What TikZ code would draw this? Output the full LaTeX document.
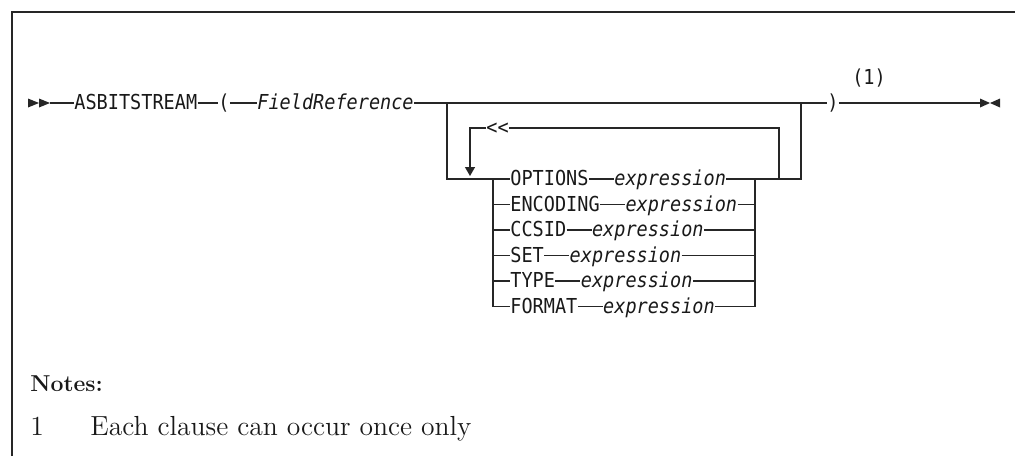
\documentclass[tikz,border=0pt]{standalone}
\usepackage{fontspec}
\usetikzlibrary{positioning,arrows.meta}

\newfontfamily\railfont[FakeStretch=0.9]{DejaVu Sans Mono}
\newcommand{\railsize}{\fontsize{10.3}{12}\selectfont}

\begin{document}
\begin{tikzpicture}[
  x=0.5pt, y=-0.5pt,
  line cap=butt,
  line join=miter,
  rail/.style={draw=black!85, line width=0.65pt},
  kw/.style={font=\railfont\railsize, inner sep=0pt, text height=6.5pt, text depth=0pt, text=black!90},
  var/.style={kw, font=\railfont\railsize\itshape},
  note/.style={inner sep=0pt, anchor=base west, font=\fontsize{13.8}{16}\selectfont, text=black!90}
]

\useasboundingbox (0,0) rectangle (1015,456);

% Frame: top and left edge only
\draw[black!85, line width=1pt] (12,456) -- (12,12) -- (1015,12);

% --- Main line ---
\fill[black!85] (28,98.5) -- (39,103) -- (28,107.5) -- cycle;
\fill[black!85] (39,98.5) -- (50,103) -- (39,107.5) -- cycle;
\coordinate (start) at (50,103);

\node[kw, anchor=west] (asb) at (74,103) {ASBITSTREAM};
\node[kw] (lpar) at (224,103) {(};
\node[var, anchor=west] (fref) at (257,103) {FieldReference};
\node[kw] (rpar) at (833,103) {)};
\node[kw, anchor=base] (ref1) at (869,84) {(1)};

\coordinate (bl) at (447,103);
\coordinate (br) at (801,103);
\coordinate (nd1) at (887,103);
\coordinate (nd2) at (909,103);
\coordinate (stop) at (980,103);

\draw[rail] (start) -- (asb.west);
\draw[rail] (asb.east) -- (lpar.west);
\draw[rail] (lpar.east) -- (fref.west);
\draw[rail] (fref.east) -- (rpar.west);
\draw[rail] (rpar.east) -- (stop);
\draw[black!85, line width=1.3pt] (nd1) -- (nd2);

% end mark
\fill[black!85] (980,98.5) -- (990,103) -- (980,107.5) -- cycle;
\fill[black!85] (1000,98.5) -- (990,103) -- (1000,107.5) -- cycle;

% --- Optional clause group ---
\coordinate (cl) at (493,179);
\coordinate (cr) at (755,179);
\coordinate (lr) at (779,179);

% outer branch
\draw[rail] (bl) |- (cl);
\draw[rail] (cr) -- (br |- cr) -- (br);

% repeat loop
\node[kw] (rep) at (497.5,128) {<<};
\draw[rail] (rep.east) -| (lr);
\draw[rail, shorten >=1.5pt, -{Triangle[length=4.5pt,width=5pt]}] (rep.west) -| (470,179);
\draw[rail] (lr) -- (cr);

% choices
\node[kw, anchor=west] (opt) at (510,179) {OPTIONS};
\node[var, right=12.5pt of opt] (optx) {expression};

\node[kw, anchor=west] (enc) at (510,204.5) {ENCODING};
\node[var, right=12.5pt of enc] (encx) {expression};

\node[kw, anchor=west] (ccs) at (510,230) {CCSID};
\node[var, right=12.5pt of ccs] (ccsx) {expression};

\node[kw, anchor=west] (set) at (510,255.5) {SET};
\node[var, right=12.5pt of set] (setx) {expression};

\node[kw, anchor=west] (typ) at (510,281) {TYPE};
\node[var, right=12.5pt of typ] (typx) {expression};

\node[kw, anchor=west] (fmt) at (510,306.5) {FORMAT};
\node[var, right=12.5pt of fmt] (fmtx) {expression};

% left and right rails of the stack
\draw[rail] (cl) |- (fmt.west);
\draw[rail] (cr) -- (cr |- fmtx.east);

\draw[rail] (cl) -- (opt.west);
\draw[rail] (opt.east) -- (optx.west);
\draw[rail] (optx.east) -- (cr);

\draw[rail] (enc.west -| cl) -- (enc.west);
\draw[rail] (enc.east) -- (encx.west);
\draw[rail] (encx.east) -- (encx.east -| cr);

\draw[rail] (ccs.west -| cl) -- (ccs.west);
\draw[rail] (ccs.east) -- (ccsx.west);
\draw[rail] (ccsx.east) -- (ccsx.east -| cr);

\draw[rail] (set.west -| cl) -- (set.west);
\draw[rail] (set.east) -- (setx.west);
\draw[rail] (setx.east) -- (setx.east -| cr);

\draw[rail] (typ.west -| cl) -- (typ.west);
\draw[rail] (typ.east) -- (typx.west);
\draw[rail] (typx.east) -- (typx.east -| cr);

\draw[rail] (fmt.east) -- (fmtx.west);
\draw[rail] (fmtx.east) -- (fmtx.east -| cr);

% --- Notes ---
\node[note, font=\bfseries\fontsize{11.5}{14}\selectfont] (notes) at (30,391) {Notes:};
\node[note] (n1num) at (30,435) {1};
\node[note] (n1txt) at (90,435) {Each clause can occur once only};

\end{tikzpicture}
\end{document}
